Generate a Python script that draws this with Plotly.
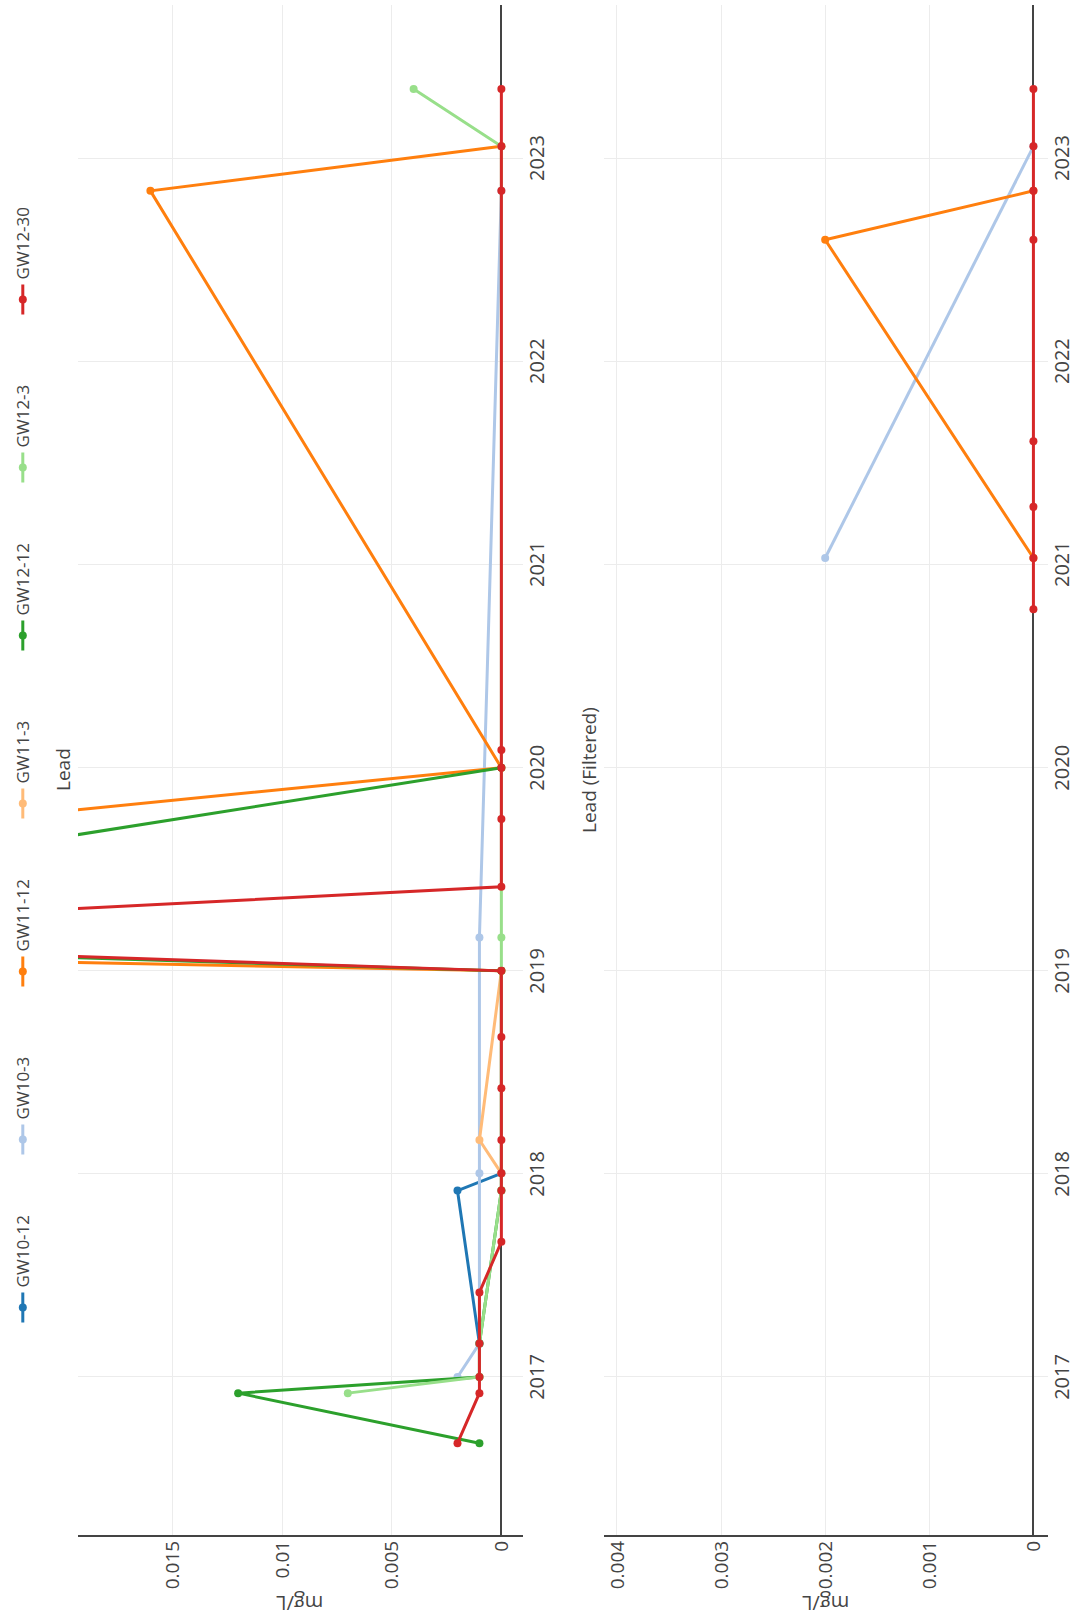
import plotly.graph_objects as go
from plotly.subplots import make_subplots

# ---------------- data ----------------
series_names = ["GW10-12", "GW10-3", "GW11-12", "GW11-3", "GW12-12", "GW12-3", "GW12-30"]
series_colors = ["#1f77b4", "#aec7e8", "#ff7f0e", "#ffbb78", "#2ca02c", "#98df8a", "#d62728"]

# Lead (unfiltered)
gw10_12_dates = ["2017-03-02", "2017-12-02", "2018-01-02"]
gw10_12_vals = [0.001, 0.002, 0.0]

gw10_3_dates = ["2017-01-01", "2017-03-02", "2018-01-02", "2019-03-02", "2022-11-03"]
gw10_3_vals = [0.002, 0.001, 0.001, 0.001, 0.0]

gw11_12_dates = ["2019-01-01", "2019-03-02", "2020-01-01", "2022-11-03", "2023-01-22"]
gw11_12_vals = [0.0, 0.078, 0.0, 0.016, 0.0]

gw11_3_dates = ["2018-01-02", "2018-03-03", "2019-01-01"]
gw11_3_vals = [0.0, 0.001, 0.0]

gw12_12_dates = ["2016-09-04", "2016-12-03", "2017-01-01", "2017-03-02", "2017-12-02",
                 "2019-01-01", "2019-03-02", "2020-01-01"]
gw12_12_vals = [0.001, 0.012, 0.001, 0.001, 0.0, 0.0, 0.049, 0.0]

gw12_3_dates = ["2016-12-03", "2017-01-01", "2017-03-02", "2017-12-02", "2019-03-02",
                "2023-01-22", "2023-05-05"]
gw12_3_vals = [0.007, 0.001, 0.001, 0.0, 0.0, 0.0, 0.004]

gw12_30_dates = ["2016-09-04", "2016-12-03", "2017-01-01", "2017-03-02", "2017-06-02",
                 "2017-09-01", "2017-12-02", "2018-01-02", "2018-03-03", "2018-06-04",
                 "2018-09-04", "2019-01-01", "2019-03-02", "2019-06-01", "2019-10-01",
                 "2020-01-01", "2020-02-02", "2022-11-03", "2023-01-22", "2023-05-05"]
gw12_30_vals = [0.002, 0.001, 0.001, 0.001, 0.001,
                0.0, 0.0, 0.0, 0.0, 0.0,
                0.0, 0.0, 0.045, 0.0, 0.0,
                0.0, 0.0, 0.0, 0.0, 0.0]

# Lead (Filtered)
f_gw10_3_dates = ["2021-01-12", "2023-01-22"]
f_gw10_3_vals = [0.002, 0.0]

f_gw11_12_dates = ["2021-01-12", "2022-08-07", "2022-11-03"]
f_gw11_12_vals = [0.0, 0.002, 0.0]

f_gw12_30_dates = ["2020-10-12", "2021-01-12", "2021-04-14", "2021-08-10",
                   "2022-08-07", "2022-11-03", "2023-01-22", "2023-05-05"]
f_gw12_30_vals = [0.0, 0.0, 0.0, 0.0, 0.0, 0.0, 0.0, 0.0]

subplot_titles = ["Lead", "Lead (Filtered)"]
year_ticks = ["2017", "2018", "2019", "2020", "2021", "2022", "2023"]
unit_label = "mg/L"

top_series = [
    ("GW10-12", gw10_12_dates, gw10_12_vals),
    ("GW10-3", gw10_3_dates, gw10_3_vals),
    ("GW11-12", gw11_12_dates, gw11_12_vals),
    ("GW11-3", gw11_3_dates, gw11_3_vals),
    ("GW12-12", gw12_12_dates, gw12_12_vals),
    ("GW12-3", gw12_3_dates, gw12_3_vals),
    ("GW12-30", gw12_30_dates, gw12_30_vals),
]
bottom_series = [
    ("GW10-3", f_gw10_3_dates, f_gw10_3_vals),
    ("GW11-12", f_gw11_12_dates, f_gw11_12_vals),
    ("GW12-30", f_gw12_30_dates, f_gw12_30_vals),
]

# ---------------- figure ----------------
color_of = dict(zip(series_names, series_colors))
W, H = 1618, 1080
ML, MR, MT, MB = 83, 5, 77, 30
top_domain = [0.5416, 1.0]
bottom_domain = [0.0, 0.4573]

fig = make_subplots(rows=2, cols=1, subplot_titles=subplot_titles, vertical_spacing=0.084)

for name, d, v in top_series:
    fig.add_trace(go.Scatter(
        x=d, y=v, name=name, mode="lines+markers", legendgroup=name,
        line=dict(color=color_of[name], width=3),
        marker=dict(color=color_of[name], size=8),
    ), row=1, col=1)

for name, d, v in bottom_series:
    fig.add_trace(go.Scatter(
        x=d, y=v, name=name, mode="lines+markers", legendgroup=name, showlegend=False,
        line=dict(color=color_of[name], width=3),
        marker=dict(color=color_of[name], size=8),
    ), row=2, col=1)

date_range = ["2016-03-23", "2023-10-03"]
tickvals = [f"{y}-01-01" for y in year_ticks]

xcommon = dict(type="date", range=date_range, tickvals=tickvals, ticktext=year_ticks,
               showgrid=True, gridcolor="#ececec", gridwidth=1, zeroline=False,
               showline=False, ticks="", tickfont=dict(size=20, color="#444"))
fig.update_xaxes(**xcommon)

ycommon = dict(showgrid=True, gridcolor="#ececec", gridwidth=1,
               zeroline=True, zerolinecolor="#444", zerolinewidth=1.5,
               showline=True, linecolor="#444", linewidth=2, ticks="",
               tickfont=dict(size=19, color="#444"))
fig.update_yaxes(**ycommon)
fig.update_yaxes(range=[-0.00097, 0.0193], dtick=0.005, tick0=0, row=1, col=1)
fig.update_yaxes(range=[-0.00014, 0.00412], dtick=0.001, tick0=0, row=2, col=1)

# y-axis unit labels (placed beside each value axis)
title_x = (14 - ML) / (W - ML - MR)
for dom in (top_domain, bottom_domain):
    fig.add_annotation(text=unit_label, xref="paper", yref="paper",
                       x=title_x, y=(dom[0] + dom[1]) / 2, xanchor="center", yanchor="middle",
                       textangle=-90, showarrow=False,
                       font=dict(size=20, color="#444", family="Open Sans"))

fig.update_layout(
    width=W, height=H,
    margin=dict(l=ML, r=MR, t=MT, b=MB),
    paper_bgcolor="white", plot_bgcolor="white",
    font=dict(family="Open Sans", color="#444", size=16),
    yaxis=dict(domain=top_domain),
    yaxis2=dict(domain=bottom_domain),
    legend=dict(orientation="h", x=0.52, xanchor="center", y=1.075, yanchor="top",
                font=dict(size=17, color="#444"), entrywidth=123, entrywidthmode="pixels"),
    showlegend=True,
)
for ann in fig.layout.annotations:
    if ann.text in subplot_titles:
        ann.font = dict(size=19, color="#444", family="Open Sans")

post_script = """
var gd = document.getElementById('{plot_id}');
document.documentElement.style.margin = '0';
document.body.style.margin = '0';
document.documentElement.style.overflow = 'hidden';
document.body.style.overflow = 'hidden';
gd.style.position = 'absolute';
gd.style.left = '0px';
gd.style.top = '0px';
gd.style.transformOrigin = '0 0';
gd.style.transform = 'translateY(1618px) rotate(-90deg)';
"""

fig.write_html("out.html", default_width=f"{W}px", default_height=f"{H}px",
               config={"responsive": False, "displayModeBar": False},
               post_script=post_script)
